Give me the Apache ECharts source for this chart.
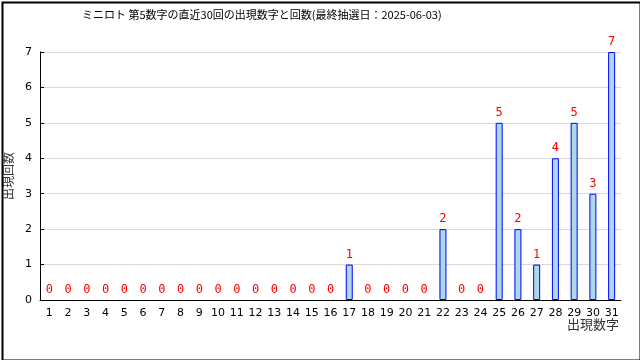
<!DOCTYPE html>
<html><head><meta charset="utf-8">
<script src="https://cdn.jsdelivr.net/npm/echarts@6/dist/echarts.min.js"></script>
<style>html,body{margin:0;padding:0;background:#fff}#c{width:640px;height:360px}</style>
</head><body><div id="c"></div>
<script>
const titleText = 'ミニロト 第5数字の直近30回の出現数字と回数(最終抽選日：2025-06-03)';
const categories = ['1','2','3','4','5','6','7','8','9','10','11','12','13','14','15','16','17','18','19','20','21','22','23','24','25','26','27','28','29','30','31'];
const counts = [0,0,0,0,0,0,0,0,0,0,0,0,0,0,0,0,1,0,0,0,0,2,0,0,5,2,1,4,5,3,7];
const yTicks = [0,1,2,3,4,5,6,7];
const xName = '出現数字';
const yName = '出現回数';

const barData = counts.map(v => v === 0 ? {value:v, itemStyle:{borderWidth:0, color:'transparent'}} : v);

const chart = echarts.init(document.getElementById('c'), null, {renderer:'canvas'});
chart.setOption({
  animation:false,
  backgroundColor:'#fff',
  title:{text:titleText,left:77,top:4,textStyle:{fontSize:11,fontWeight:'normal',color:'#000',fontFamily:'Noto Sans CJK JP'}},
  grid:{left:40,right:19,top:52,bottom:60,containLabel:false,outerBoundsMode:'none'},
  xAxis:{type:'category',data:categories,
    axisLine:{lineStyle:{color:'#000',width:1}},
    axisTick:{inside:true,length:4,lineStyle:{color:'#000'}},
    axisLabel:{color:'#000',fontSize:11,margin:8,interval:0,fontFamily:'DejaVu Sans'}
  },
  yAxis:{type:'value',min:yTicks[0],max:yTicks[yTicks.length-1],interval:1,
    name:yName,nameLocation:'middle',nameGap:22,nameRotate:90,
    nameTextStyle:{fontSize:12,color:'#333',fontFamily:'Noto Sans CJK JP'},
    axisLine:{show:true,lineStyle:{color:'#000',width:1}},
    axisTick:{show:true,inside:true,length:4,lineStyle:{color:'#000'}},
    axisLabel:{color:'#000',fontSize:11,margin:8,fontFamily:'DejaVu Sans'},
    splitLine:{lineStyle:{color:'#d9d9d9'}}
  },
  series:[{type:'bar',data:barData,barWidth:7,
    itemStyle:{color:'#add8e6',borderColor:'#0000ff',borderWidth:1},
    label:{show:true,position:'top',distance:4,color:'#ff0000',fontSize:12,fontFamily:'DejaVu Sans Mono'}
  }],
  graphic:[
    {type:'rect',left:0,top:0,silent:true,shape:{x:1,y:1,width:638,height:358},style:{fill:null,stroke:'#000',lineWidth:2}},
    {type:'text',right:21,top:318,silent:true,style:{text:xName,fontSize:13,fill:'#333',fontFamily:'Noto Sans CJK JP'}}
  ]
});
</script></body></html>
